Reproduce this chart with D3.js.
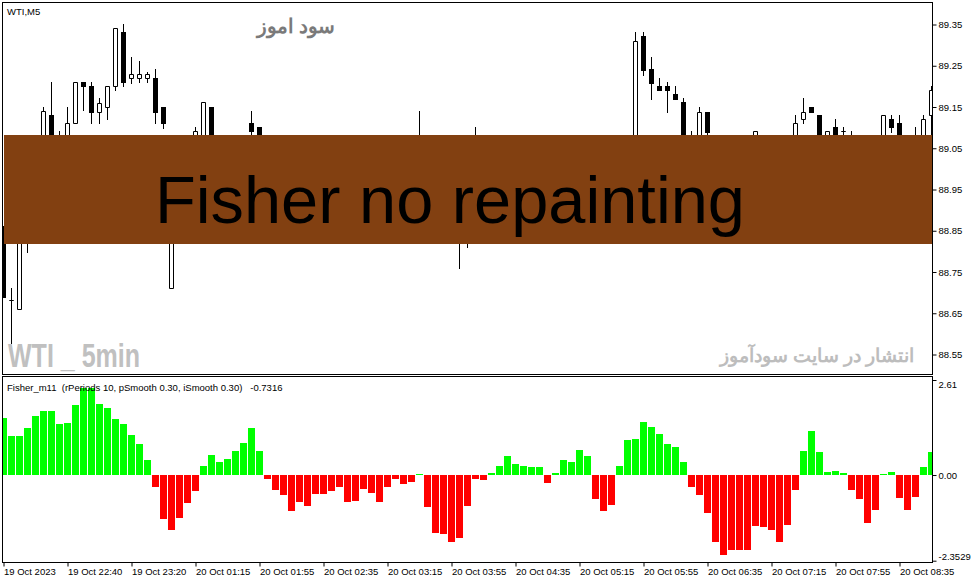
<!DOCTYPE html>
<html><head><meta charset="utf-8">
<script src="https://cdn.jsdelivr.net/npm/d3@7"></script>
<style>
body{margin:0;background:#fff}
svg{display:block}
text{font-family:"Liberation Sans",Arial,sans-serif}
</style>
</head><body>
<svg id="c" width="972" height="584"></svg>
<script>
// ---------------- DATA ----------------
const symbolLabel = "WTI,M5";
const indicatorLabel = "Fisher_m11  (rPeriods 10, pSmooth 0.30, iSmooth 0.30)   -0.7316";
const bannerText = "Fisher no repainting";
const watermarkTop = "سود اموز";
const watermarkLeft = "WTI _ 5min";
const watermarkRight = "انتشار در سایت سودآموز";

const priceTicks = [89.35, 89.25, 89.15, 89.05, 88.95, 88.85, 88.75, 88.65, 88.55];
const fisherTicks = [2.61, 0, -2.3529];
const fisherTickLabels = ["2.61", "0.00", "-2.3529"];
const timeLabels = ["19 Oct 2023","19 Oct 22:40","19 Oct 23:20","20 Oct 01:15","20 Oct 01:55",
  "20 Oct 02:35","20 Oct 03:15","20 Oct 03:55","20 Oct 04:35","20 Oct 05:15","20 Oct 05:55",
  "20 Oct 06:35","20 Oct 07:15","20 Oct 07:55","20 Oct 08:35"];

const open = [88.862,88.681,88.660,88.950,89.000,89.040,89.131,89.050,89.060,89.110,
 89.211,89.201,89.139,89.149,89.200,89.331,89.220,89.220,89.220,89.220,
 89.150,88.711,88.980,89.010,89.040,89.050,89.150,89.050,89.020,89.040,
 89.060,89.110,89.101,89.040,89.000,88.970,88.950,88.910,88.940,88.920,
 88.950,88.940,88.960,88.970,88.930,88.950,88.980,88.960,88.930,88.970,
 89.000,88.980,89.000,89.030,88.960,88.900,88.920,88.880,88.900,88.930,
 88.990,88.970,89.000,89.030,89.050,89.020,89.030,89.010,89.030,88.980,
 89.020,89.050,89.030,89.060,89.030,88.970,88.940,88.980,89.030,89.010,
 89.322,89.242,89.201,89.201,89.181,89.162,89.060,89.050,89.139,89.070,
 89.010,88.950,88.930,88.900,88.990,89.060,89.010,88.980,88.940,89.040,
 89.120,89.150,89.130,89.050,89.101,89.091,89.070,89.060,89.020,88.980,
 89.010,89.120,89.110,89.040,89.050,89.070,89.130];
const high = [88.862,88.711,88.960,89.020,89.060,89.150,89.211,89.092,89.150,89.211,
 89.211,89.211,89.171,89.200,89.341,89.351,89.270,89.261,89.235,89.241,
 89.150,89.000,89.040,89.070,89.102,89.161,89.150,89.070,89.050,89.070,
 89.075,89.140,89.101,89.060,89.030,89.000,88.970,88.960,88.950,88.970,
 88.970,88.980,88.990,88.980,88.960,88.990,89.000,88.970,88.980,89.010,
 89.020,89.010,89.140,89.040,88.970,88.940,88.930,88.920,88.950,89.101,
 89.010,89.020,89.040,89.060,89.060,89.050,89.050,89.040,89.040,89.030,
 89.060,89.060,89.070,89.070,89.040,88.990,88.990,89.040,89.070,89.332,
 89.332,89.271,89.220,89.211,89.201,89.172,89.092,89.150,89.139,89.075,
 89.030,88.980,88.960,88.990,89.091,89.070,89.040,89.000,89.020,89.130,
 89.172,89.150,89.130,89.091,89.121,89.101,89.092,89.070,89.040,89.020,
 89.130,89.130,89.130,89.060,89.102,89.130,89.200];
const low = [88.689,88.578,88.660,88.799,88.960,89.020,89.030,89.030,89.050,89.110,
 89.143,89.110,89.110,89.120,89.190,89.200,89.209,89.211,89.211,89.110,
 89.100,88.711,88.940,88.990,89.020,89.040,89.030,89.000,88.980,89.010,
 89.030,89.060,89.020,88.990,88.960,88.930,88.900,88.890,88.900,88.910,
 88.920,88.930,88.940,88.920,88.910,88.940,88.950,88.920,88.920,88.960,
 88.970,88.960,88.980,88.950,88.880,88.870,88.860,88.760,88.810,88.920,
 88.950,88.960,88.990,89.010,89.000,89.000,89.000,88.990,88.970,88.970,
 89.010,89.010,89.020,89.020,88.960,88.920,88.930,88.970,89.000,89.000,
 89.228,89.170,89.190,89.139,89.169,89.040,89.010,89.030,89.070,89.000,
 88.940,88.900,88.880,88.890,88.970,89.000,88.960,88.920,88.930,89.030,
 89.110,89.139,89.040,89.030,89.050,89.060,89.030,89.000,88.960,88.970,
 89.000,89.090,89.030,89.010,89.040,89.060,89.050];
const close = [88.689,88.681,88.950,89.000,89.040,89.140,89.050,89.060,89.110,89.211,
 89.201,89.138,89.160,89.200,89.341,89.210,89.230,89.230,89.230,89.139,
 89.110,88.980,89.010,89.040,89.091,89.161,89.050,89.020,89.040,89.060,
 89.050,89.091,89.040,89.000,88.970,88.950,88.910,88.940,88.920,88.950,
 88.940,88.960,88.970,88.930,88.950,88.980,88.960,88.930,88.970,89.000,
 88.980,89.000,89.030,88.960,88.900,88.920,88.880,88.900,88.930,88.990,
 88.970,89.000,89.030,89.050,89.020,89.030,89.010,89.030,88.980,89.020,
 89.050,89.030,89.060,89.030,88.970,88.940,88.980,89.030,89.010,89.310,
 89.240,89.209,89.190,89.190,89.169,89.060,89.050,89.139,89.090,89.010,
 88.950,88.930,88.900,88.980,89.091,89.010,88.980,88.940,89.010,89.110,
 89.139,89.139,89.050,89.091,89.060,89.091,89.060,89.020,88.980,89.010,
 89.130,89.101,89.040,89.050,89.070,89.120,89.190];

const fisher = [1.58,1.06,1.08,1.28,1.61,1.77,1.77,1.41,1.44,1.91,
 2.38,2.38,1.96,1.85,1.55,1.41,1.11,0.84,0.40,-0.33,
 -1.22,-1.50,-1.19,-0.78,-0.43,0.26,0.54,0.37,0.43,0.65,
 0.89,1.28,0.67,-0.12,-0.40,-0.56,-1.00,-0.75,-0.84,-0.53,
 -0.53,-0.43,-0.34,-0.75,-0.70,-0.37,-0.48,-0.75,-0.32,-0.10,
 -0.26,-0.18,0.03,-0.89,-1.58,-1.61,-1.85,-1.72,-0.86,-0.12,
 -0.15,0.05,0.26,0.51,0.29,0.26,0.21,0.23,-0.23,0.05,
 0.40,0.37,0.70,0.51,-0.65,-0.98,-0.81,0.26,0.95,0.98,
 1.47,1.33,1.14,0.86,0.76,0.37,-0.32,-0.56,-1.03,-1.85,
 -2.21,-2.07,-2.07,-2.05,-1.41,-1.44,-1.50,-1.85,-1.36,-0.40,
 0.65,1.22,0.62,0.07,0.10,0.05,-0.40,-0.65,-1.33,-0.95,
 0.02,0.08,-0.62,-0.95,-0.59,0.23,0.62];

// ---------------- DRAW ----------------
const svg = d3.select("#c");
const n = close.length;
const PX0 = 2, PX1 = 932;          // pane left / right border columns
const MY0 = 2, MY1 = 374;          // main pane top / bottom rows
const IY0 = 376, IY1 = 562;        // indicator pane top / bottom rows

const x = d3.scaleLinear().domain([0, n - 1]).range([3.5, 3.5 + 8 * (n - 1)]);
const yP = d3.scaleLinear().domain([88.55, 89.35]).range([354.5, 24.5]);
const yF = d3.scaleLinear().domain([-2.3529, 2.61]).range([560.7, 380]);

const defs = svg.append("defs");
defs.append("clipPath").attr("id", "clipMain").append("rect")
  .attr("x", PX0 + 1).attr("y", MY0 + 1).attr("width", PX1 - PX0 - 1).attr("height", MY1 - MY0 - 1);
defs.append("clipPath").attr("id", "clipInd").append("rect")
  .attr("x", PX0 + 1).attr("y", IY0 + 1).attr("width", PX1 - PX0 - 1).attr("height", IY1 - IY0 - 1);

// candles
const gC = svg.append("g").attr("clip-path", "url(#clipMain)");
const idx = d3.range(n);
gC.selectAll("line.wick").data(idx).join("line").attr("class", "wick")
  .attr("x1", i => x(i)).attr("x2", i => x(i))
  .attr("y1", i => Math.round(yP(high[i]))).attr("y2", i => Math.round(yP(low[i])) + 1)
  .attr("stroke", "#000").attr("stroke-width", 1);
gC.selectAll("path.body").data(idx).join("path").attr("class", "body")
  .attr("d", i => {
    const c = x(i);
    const t = Math.round(yP(Math.max(open[i], close[i])));
    const b = Math.round(yP(Math.min(open[i], close[i])));
    if (close[i] >= open[i]) {
      return `M${c - 2},${t + 0.5}H${c + 2}V${b + 0.5}H${c - 2}Z`;
    }
    return `M${c - 2.5},${t}H${c + 2.5}V${b + 1}H${c - 2.5}Z`;
  })
  .attr("fill", i => close[i] >= open[i] ? "#fff" : "#000")
  .attr("stroke", i => close[i] >= open[i] ? "#000" : "none")
  .attr("stroke-width", 1);

// histogram
const gH = svg.append("g").attr("clip-path", "url(#clipInd)");
const y0 = Math.round(yF(0));
gH.selectAll("rect").data(idx).join("rect")
  .attr("x", i => x(i) - 3.5).attr("width", 7)
  .attr("y", i => fisher[i] >= 0 ? Math.round(yF(fisher[i])) : y0)
  .attr("height", i => Math.max(1, Math.abs(Math.round(yF(fisher[i])) - y0)))
  .attr("fill", i => fisher[i] >= 0 ? "#00ff00" : "#ff0000");

// watermarks (main pane)
svg.append("text").attr("x", 296).attr("y", 33).attr("text-anchor", "middle")
  .attr("font-family", "DejaVu Sans").attr("font-weight", "bold").attr("font-size", 20)
  .attr("fill", "#7a7a7a").text(watermarkTop);
svg.append("text").attr("x", 8).attr("y", 367)
  .attr("font-family", "'DejaVu Sans',sans-serif")
  .attr("font-weight", "bold").attr("font-size", 34)
  .attr("textLength", 132).attr("lengthAdjust", "spacingAndGlyphs")
  .attr("fill", "#c0c0c0").text(watermarkLeft);
svg.append("text").attr("x", 817).attr("y", 362).attr("text-anchor", "middle")
  .attr("font-family", "DejaVu Sans").attr("font-weight", "bold").attr("font-size", 19)
  .attr("fill", "#bdbdbd").text(watermarkRight);

// banner
svg.append("rect").attr("x", 4).attr("y", 135).attr("width", PX1 - 4).attr("height", 109)
  .attr("fill", "#824011");
svg.append("text").attr("x", 155).attr("y", 223)
  .attr("font-size", 67).attr("fill", "#000")
  .attr("textLength", 590).attr("lengthAdjust", "spacingAndGlyphs").text(bannerText);

// pane borders
[[MY0, MY1], [IY0, IY1]].forEach(([a, b]) => {
  svg.append("rect").attr("x", PX0 + 0.5).attr("y", a + 0.5)
    .attr("width", PX1 - PX0).attr("height", b - a)
    .attr("fill", "none").attr("stroke", "#000").attr("stroke-width", 1);
});

// labels
svg.append("text").attr("x", 7).attr("y", 14.5).attr("font-size", 9.5).attr("fill", "#000").text(symbolLabel);
svg.append("text").attr("x", 7).attr("y", 391).attr("font-size", 9.5).attr("fill", "#000")
  .style("white-space", "pre").attr("xml:space", "preserve").text(indicatorLabel);

// price axis
const axP = svg.append("g").attr("transform", `translate(${PX1 + 0.5},0)`)
  .call(d3.axisRight(yP).tickValues(priceTicks).tickFormat(d3.format(".2f")).tickSize(4).tickPadding(2));
axP.select(".domain").remove();
axP.selectAll("text").attr("font-family", "'Liberation Sans',Arial,sans-serif").attr("font-size", 9.5).attr("fill", "#000");
axP.selectAll("line").attr("stroke", "#000");

// fisher axis
const axF = svg.append("g").attr("transform", `translate(${PX1 + 0.5},0)`)
  .call(d3.axisRight(yF).tickValues(fisherTicks).tickFormat((d, i) => fisherTickLabels[i]).tickSize(4).tickPadding(2));
axF.select(".domain").remove();
axF.selectAll("text").attr("font-family", "'Liberation Sans',Arial,sans-serif").attr("font-size", 9.5).attr("fill", "#000")
  .attr("dy", (d, i) => i === 0 ? "0.8em" : (i === 2 ? "-0.1em" : "0.32em"));
axF.selectAll("line").attr("stroke", "#000");

// time axis
const timeTicks = timeLabels.map((d, i) => i * 8);
const axT = svg.append("g").attr("transform", `translate(0,${IY1 + 0.5})`)
  .call(d3.axisBottom(x).tickValues(timeTicks).tickFormat((d, i) => timeLabels[i]).tickSize(4).tickPadding(2));
axT.select(".domain").remove();
axT.selectAll("text").attr("font-family", "'Liberation Sans',Arial,sans-serif").attr("font-size", 9.5)
  .attr("fill", "#000").attr("text-anchor", "start").attr("x", 0);
axT.selectAll("line").attr("stroke", "#000");
</script>
</body></html>
